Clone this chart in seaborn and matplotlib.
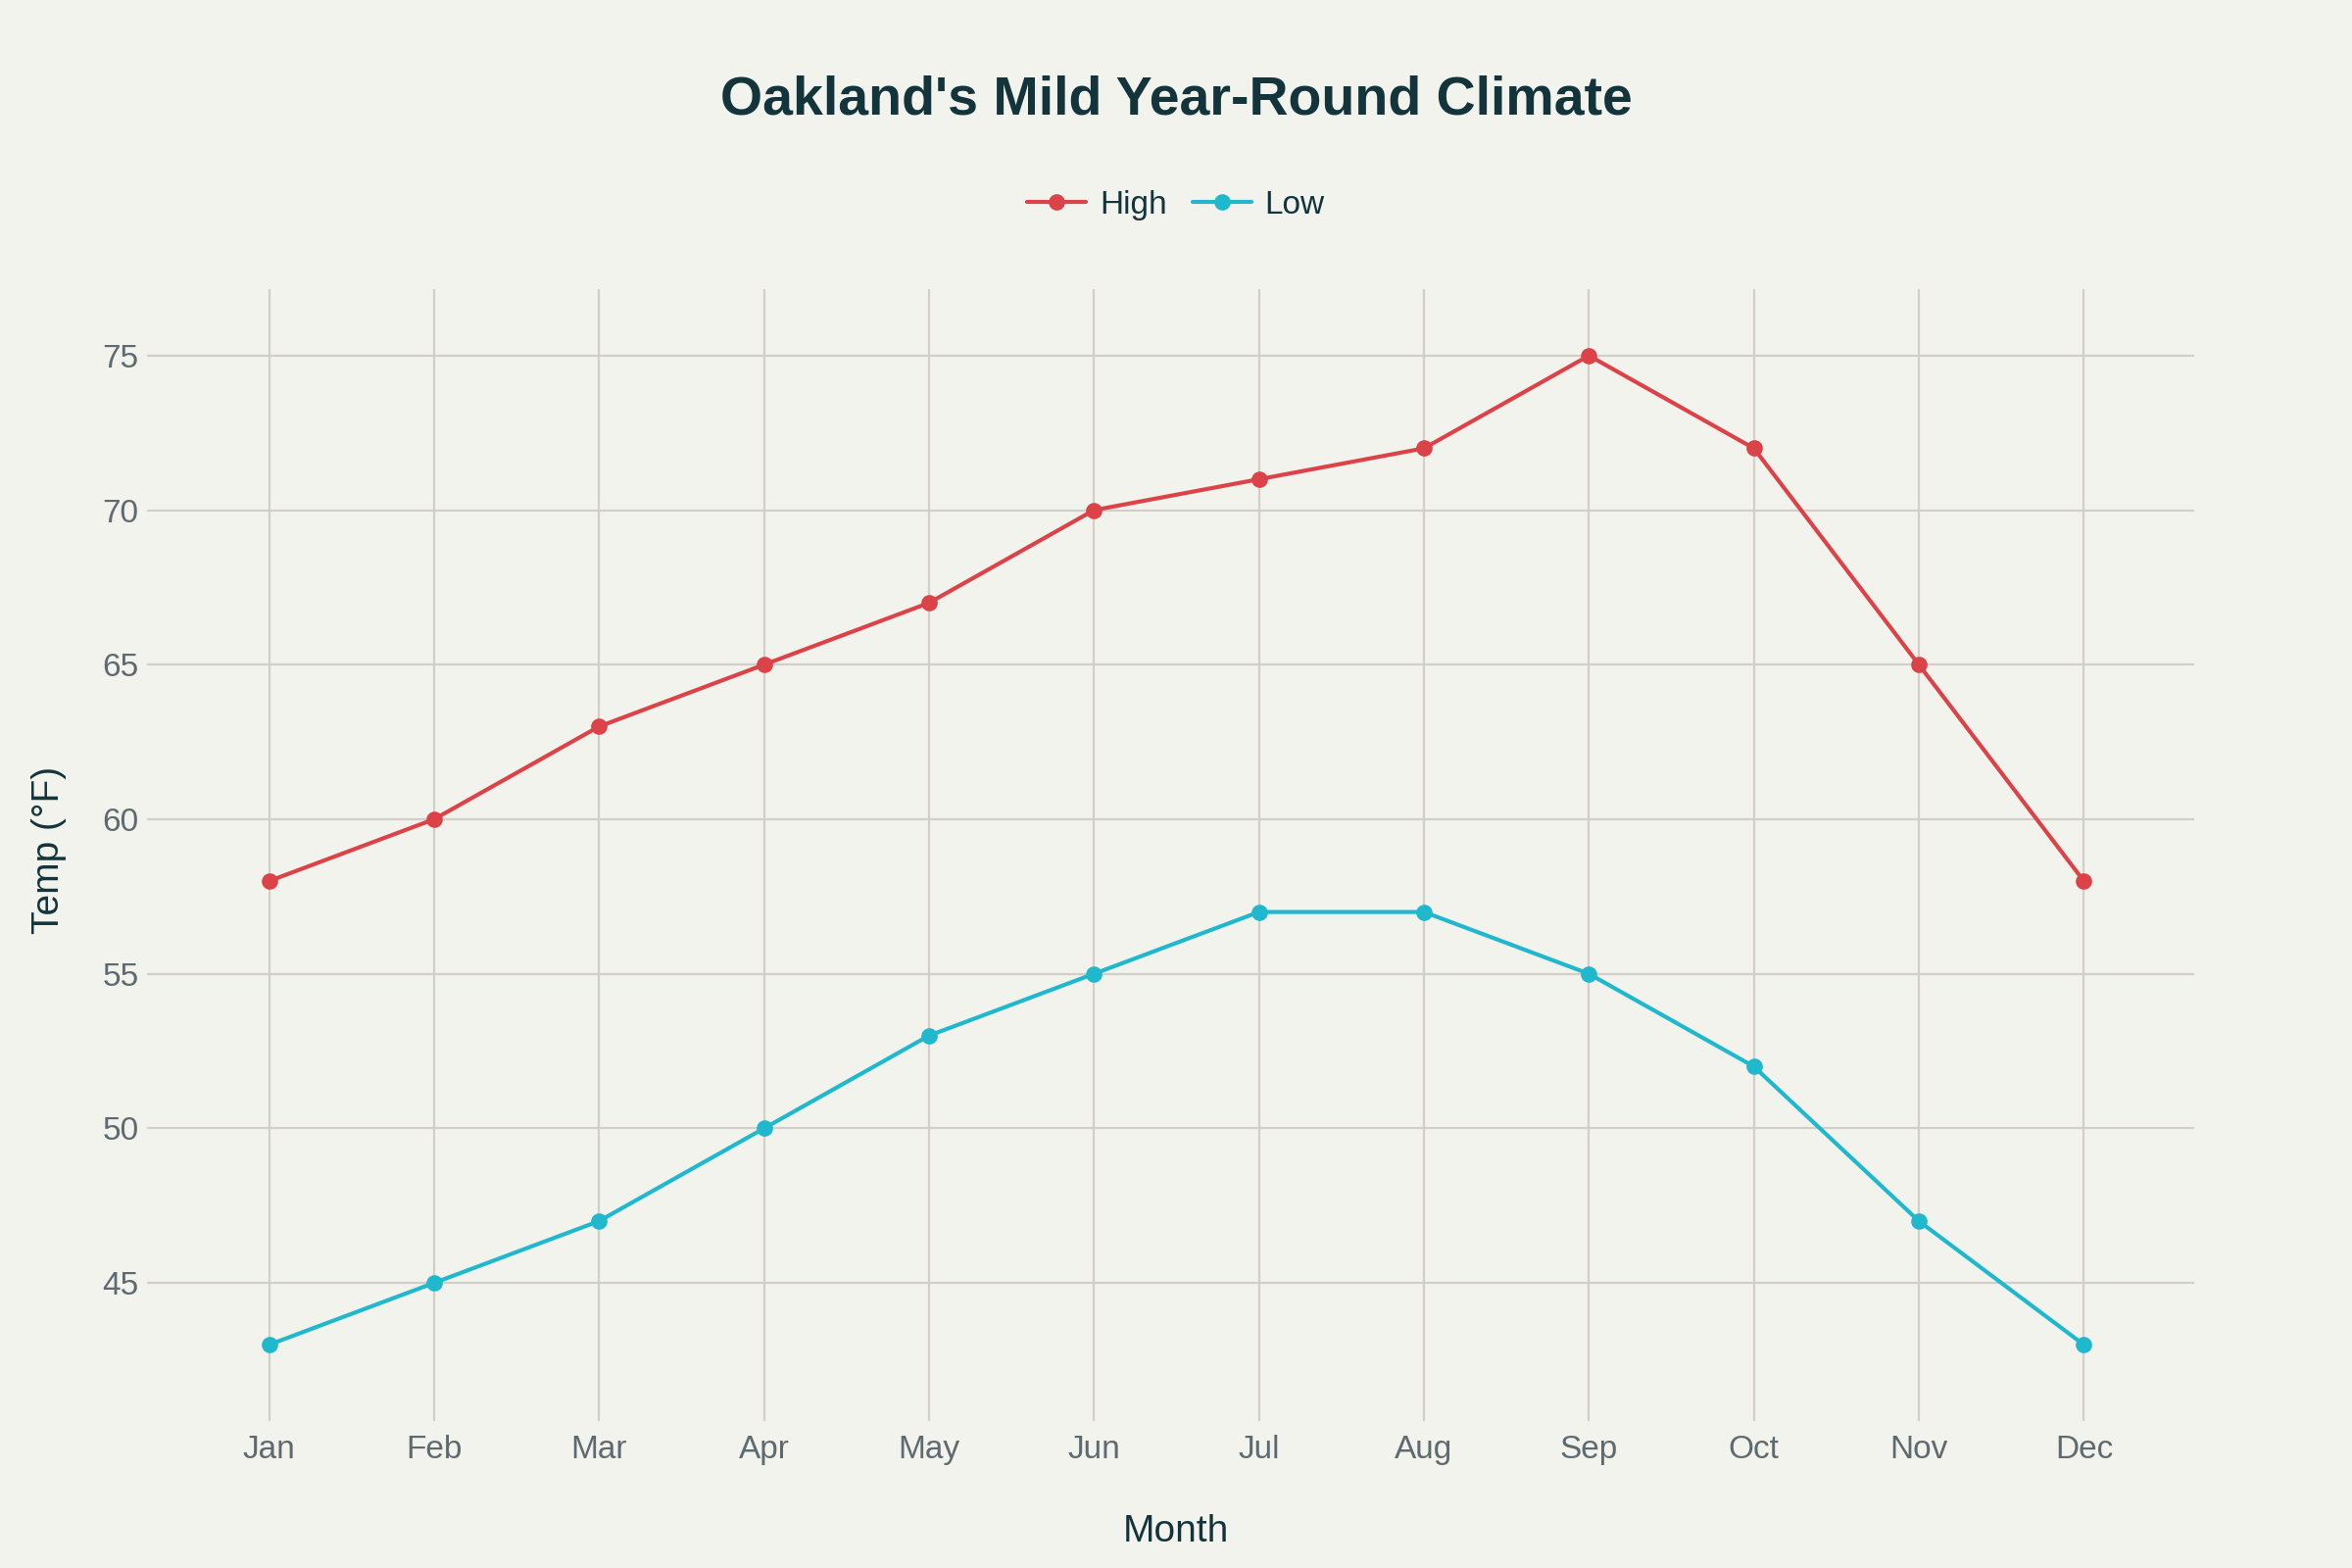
import matplotlib
matplotlib.use("Agg")
import matplotlib.pyplot as plt
import seaborn as sns
import pandas as pd

months = ["Jan", "Feb", "Mar", "Apr", "May", "Jun", "Jul", "Aug", "Sep", "Oct", "Nov", "Dec"]
high = [58, 60, 63, 65, 67, 70, 71, 72, 75, 72, 65, 58]
low = [43, 45, 47, 50, 53, 55, 57, 57, 55, 52, 47, 43]
series_names = ["High", "Low"]
colors = {"High": "#DC4348", "Low": "#1FB8CD"}

df = pd.DataFrame({
    "Month": months * 2,
    "Temp": high + low,
    "Series": [series_names[0]] * len(months) + [series_names[1]] * len(months),
})

BG = "#F3F3EE"
DARK = "#13343B"
GRAY = "#5E6A70"
GRID = "#D2CEC8"

sns.set_theme(style="whitegrid")
plt.rcParams["font.family"] = ["Liberation Sans", "DejaVu Sans"]

fig = plt.figure(figsize=(12, 8), dpi=200, facecolor=BG)
ax = fig.add_axes([0.0667, 0.1, 0.8663, 0.7156])
ax.set_facecolor(BG)

sns.lineplot(data=df, x="Month", y="Temp", hue="Series", palette=colors,
             marker="o", markersize=6, markeredgewidth=0, linewidth=1.5,
             sort=False, ax=ax)

ax.set_xlim(-0.68, 11.67)
ax.set_ylim(40.85, 77.15)
ax.set_yticks([45, 50, 55, 60, 65, 70, 75])

for s in ax.spines.values():
    s.set_visible(False)
ax.grid(True, color=GRID, linewidth=0.8)
ax.tick_params(axis="both", colors=GRID, labelcolor=GRAY, labelsize=12,
               length=3.6, width=0.8, pad=3, direction="out")
ax.tick_params(axis="x", pad=5)
ax.tick_params(left=True, bottom=True)

ax.set_xlabel("Month", fontsize=14, color=DARK, labelpad=18)
ax.set_ylabel("Temp (°F)", fontsize=14, color=DARK, labelpad=13)

handles, labels = ax.get_legend_handles_labels()
ax.get_legend().remove()
fig.legend(handles, labels, loc="center", bbox_to_anchor=(0.5, 0.869), ncol=2,
           frameon=False, fontsize=12, handlelength=1.8, handletextpad=0.4,
           columnspacing=0.8, labelcolor=DARK)

fig.text(0.5, 0.936, "Oakland's Mild Year-Round Climate", ha="center", va="center",
         fontsize=20, fontweight="bold", color=DARK)

fig.savefig("out.png", dpi=200, facecolor=BG)
